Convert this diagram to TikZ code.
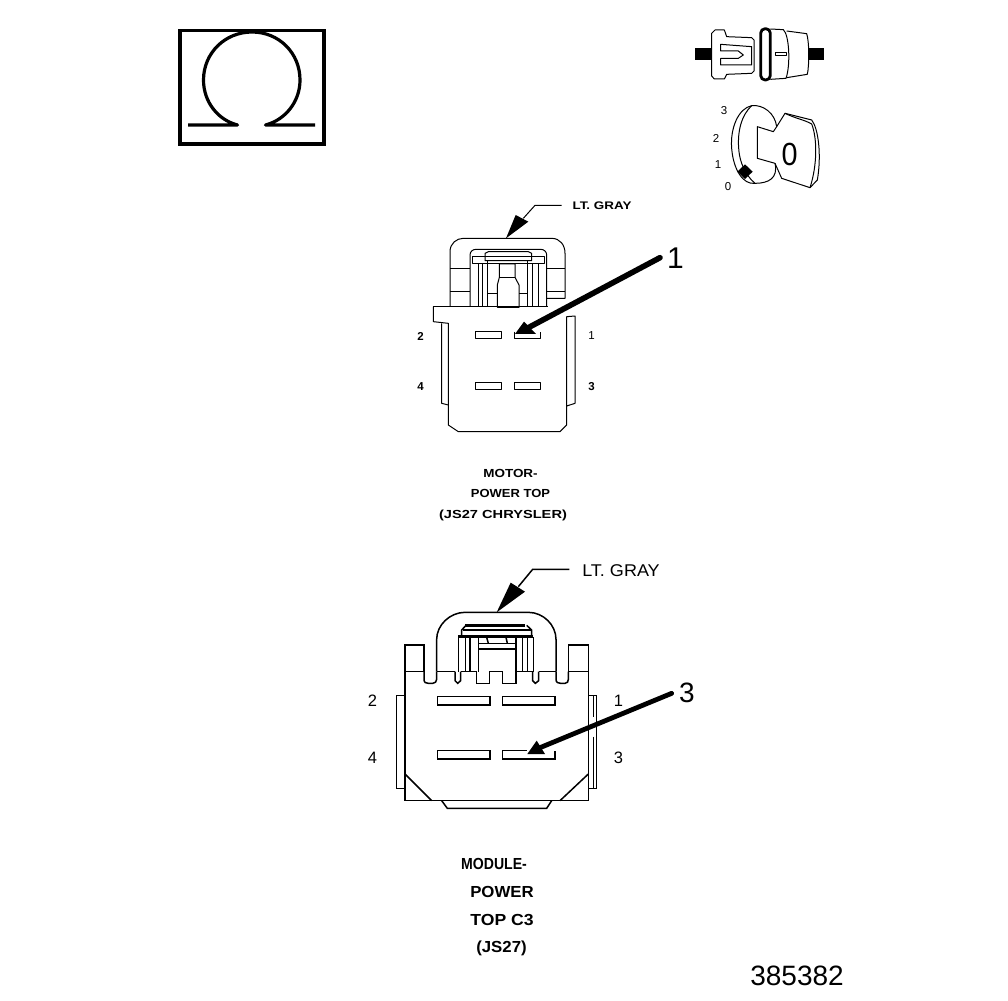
\documentclass[tikz,border=0pt]{standalone}
\usepackage{fontspec}
\setmainfont{Liberation Sans}
\newcommand{\fs}[1]{\fontsize{#1}{#1}\selectfont}
\tikzset{
  thin line/.style={line width=1pt,line join=round},
  med line/.style={line width=1.5pt,line join=miter},
  lbl/.style={inner sep=0pt,text=black},
  zoomA/.style={shift={(400,190)},x=0.33333pt,y=-0.33333pt},
  zoomB/.style={shift={(350,550)},x=0.33333pt,y=-0.33333pt},
  zoomC/.style={shift={(680,15)},x=0.33333pt,y=-0.33333pt},
}
\begin{document}
\begin{tikzpicture}[x=1pt,y=-1pt]
\useasboundingbox (0,0) rectangle (1008,1000);
\fill[white] (0,0) rectangle (1008,1000);
% Omega symbol
\draw[line width=3.4pt] (180,30.5) rectangle (324,144);
\draw[line width=3.2pt,line join=round] (188,125) -- (237.5,125) .. controls (218,120) and (203.5,102) .. (203.5,80)
  .. controls (203.5,53) and (225,32) .. (252,32) .. controls (279,32) and (300,53) .. (300,80)
  .. controls (300,102) and (285,120) .. (265.5,125) -- (315,125);
% Top-right switch
\begin{scope}[zoomC,thin line]
\fill (45,100) rectangle (95,135);
\fill (385,100) rectangle (432,135);
\draw (95,135) -- (95,55) -- (105,45) -- (133,45) -- (140,65) -- (215,68) -- (222,75) -- (222,168) -- (215,175) -- (140,178) -- (133,192) -- (103,192) -- (95,183) -- cycle;
\draw (122,88) -- (215,95) -- (215,150) -- (122,150) -- (122,130) -- (175,130) -- (190,120) -- (175,108) -- (122,108) -- cycle;
\draw[line width=2.8pt,rounded corners=4.5pt] (242,41) rectangle (271,195);
\draw (271,42) -- (310,44) .. controls (328,60) and (332,150) .. (318,190) -- (271,193);
\draw (320,48) -- (380,56) .. controls (388,80) and (388,150) .. (382,178) -- (320,188);
\draw (286,112) rectangle (320,122);
% key
\draw (290,335) .. controls (285,295) and (250,268) .. (215,272) .. controls (175,280) and (150,340) .. (155,400)
  .. controls (160,465) and (190,510) .. (225,505) .. controls (265,505) and (295,490) .. (285,445);
\draw (215,272) .. controls (185,300) and (170,350) .. (177,410) .. controls (180,440) and (195,480) .. (225,505);
\draw (290,335) -- (280,350) -- (232,335) -- (232,430) -- (285,445);
\draw (290,335) -- (315,295) -- (395,315) .. controls (415,340) and (425,420) .. (412,495) -- (390,518) -- (305,490) -- (285,445);
\draw (315,295) .. controls (345,310) and (375,315) .. (395,327) .. controls (412,370) and (412,450) .. (390,518);
\fill (195,448) -- (218,470) -- (195,492) -- (172,470) -- cycle;
\end{scope}
\node[lbl,font=\fs{11.5}] (k3) at (724,111) {3};
\node[lbl,font=\fs{11.5}] (k2) at (716,138.5) {2};
\node[lbl,font=\fs{11.5}] (k1) at (718,165) {1};
\node[lbl,font=\fs{11.5}] (k0) at (728,187) {0};
\node[lbl,font=\fs{32},xscale=0.9] (kO) at (789.5,154) {0};
% Connector 1
\begin{scope}[zoomA,thin line]
\draw (150,350) -- (150,185) .. controls (150,160) and (170,145) .. (190,145) -- (455,145) .. controls (480,145) and (495,165) .. (495,190) -- (495,325) -- (440,325);
\draw (150,235) -- (210,235); \draw (150,305) -- (210,305);
\draw (440,235) -- (495,235); \draw (440,305) -- (495,305);
\draw (210,350) -- (210,195) .. controls (210,185) and (218,178) .. (228,178) -- (422,178) .. controls (432,178) and (440,185) .. (440,195) -- (440,350);
\draw (100,350) -- (445,350);
\draw (100,350) -- (100,395) -- (145,400) -- (145,705) -- (175,725) -- (480,725) -- (500,705) -- (500,380) -- (525,378) -- (525,640) -- (500,648);
\draw (125,400) -- (125,640) -- (145,645);
\draw (218,200) -- (432,200) -- (432,220) -- (218,220) -- cycle;
\draw (255,200) -- (255,190) -- (265,185) -- (385,185) -- (395,190) -- (395,212) -- (255,212) -- cycle;
\draw (235,220) -- (235,350); \draw (248,220) -- (248,350); \draw (263,212) -- (263,350);
\draw (382,212) -- (382,350); \draw (398,220) -- (398,350); \draw (415,220) -- (415,350);
\draw (298,222) -- (345,222) -- (345,262) -- (357,285) -- (357,352) -- (292,352) -- (292,285) -- (298,262) -- cycle;
\draw (298,262) -- (345,262);
\draw (263,312) -- (292,312); \draw (357,312) -- (382,312);
\foreach \xa/\xb/\ya/\yb in {225/305/425/445,225/305/578/598,342/420/578/598}{
  \draw (\xa,\ya) rectangle (\xb,\yb);
}
\draw (342,425) -- (342,445) -- (420,445) -- (420,425);
\coordinate (a1end) at (780,203);
\coordinate (a1base) at (385,413);
\fill (345,432) -- (408,432) -- (372,395) -- cycle;
\draw[line width=5.6pt,line cap=round] (a1end) -- (a1base);
\coordinate (g1a) at (485,46);
\coordinate (g1b) at (405,46);
\coordinate (g1c) at (370,85);
\draw[line width=1pt] (g1a) -- (g1b) -- (g1c);
\fill (318,145) -- (385,95) -- (347,75) -- cycle;
\end{scope}
\node[lbl,font=\bfseries\fs{11},xscale=1.22] (g1) at (602,205.5) {LT. GRAY};
\node[lbl,font=\fs{30}] (n1) at (675.5,258) {1};
\node[lbl,font=\bfseries\fs{11.5}] (c12) at (420.5,336) {2};
\node[lbl,font=\fs{11.5}] (c11) at (591.5,336) {1};
\node[lbl,font=\bfseries\fs{11.5}] (c14) at (420.5,387) {4};
\node[lbl,font=\bfseries\fs{11.5}] (c13) at (591.5,387) {3};
\node[lbl,font=\bfseries\fs{11.7},xscale=1.15] (t1) at (510.5,473) {MOTOR-};
\node[lbl,font=\bfseries\fs{11.7},xscale=1.11] (t2) at (510.5,493.5) {POWER TOP};
\node[lbl,font=\bfseries\fs{11.7},xscale=1.25] (t3) at (503,515) {(JS27 CHRYSLER)};
% Connector 2
\begin{scope}[zoomB,med line]
\draw (165,752) -- (165,285) -- (222,285) -- (222,365);
\draw (715,752) -- (715,285) -- (655,285) -- (655,365);
\draw (165,752) -- (715,752);
\foreach \xa/\xb in {165/222,260/315,332/380,418/458,498/548,566/618,655/715}{
  \draw (\xa,365) -- (\xb,365);
}
\draw (260,365) -- (260,268) .. controls (260,225) and (300,187) .. (345,187) -- (535,187) .. controls (580,187) and (618,225) .. (618,268) -- (618,365);
\draw (222,365) -- (222,388) .. controls (222,398) and (228,400) .. (235,400) -- (248,400) .. controls (255,400) and (260,395) .. (260,388) -- (260,365);
\draw (618,365) -- (618,388) .. controls (618,398) and (625,400) .. (632,400) -- (645,400) .. controls (652,400) and (655,395) .. (655,388) -- (655,365);
\draw (315,365) -- (315,392) -- (323,400) -- (332,392) -- (332,365);
\draw (548,365) -- (548,392) -- (556,400) -- (566,392) -- (566,365);
\draw (380,365) -- (380,400) -- (418,400) -- (418,365);
\draw (458,365) -- (458,400) -- (498,400) -- (498,365);
\draw (165,437) -- (140,437) -- (140,715) -- (165,715);
\draw (715,437) -- (740,437) -- (740,715) -- (715,715);
\draw (730,437) -- (730,500); \draw (730,560) -- (730,715);
\draw (165,672) -- (245,752);
\draw (715,672) -- (630,752);
\draw (275,752) -- (292,775) -- (590,775) -- (605,752);
\draw (325,365) -- (325,260); \draw (550,365) -- (550,260);
\draw (347,365) -- (347,262); \draw (360,365) -- (360,262);
\draw (518,365) -- (518,262); \draw (532,365) -- (532,262);
\draw (385,365) -- (385,262); \draw (498,365) -- (498,262);
\draw[line width=2.4pt] (325,260) -- (550,260);
\draw[line width=2.4pt] (345,226) -- (525,226);
\draw (335,258) -- (335,240) -- (348,226); \draw (545,258) -- (545,240) -- (530,226);
\draw[line width=1.6pt] (338,240) -- (542,240);
\draw (385,280) -- (498,280); \draw (385,297) -- (498,297);
\draw (410,262) -- (415,280); \draw (468,262) -- (472,280);
\draw (263,440) rectangle (420,465);
\draw (458,440) rectangle (615,465);
\draw (263,602) rectangle (420,627);
\draw (530,602) -- (458,602) -- (458,627) -- (615,627) -- (615,602);
\coordinate (a2end) at (965,430);
\coordinate (a2base) at (570,593);
\fill (532,612) -- (585,612) -- (560,572) -- cycle;
\draw[line width=4.8pt,line cap=round] (a2end) -- (a2base);
\coordinate (g2a) at (658,58);
\coordinate (g2b) at (548,58);
\coordinate (g2c) at (505,110);
\draw (g2a) -- (g2b) -- (g2c);
\fill (440,187) -- (525,125) -- (482,98) -- cycle;
\end{scope}
\node[lbl,font=\fs{17},xscale=1.06] (g2) at (621,570.5) {LT. GRAY};
\node[lbl,font=\fs{28}] (n3) at (687,692.5) {3};
\node[lbl,font=\fs{16.5}] (c22) at (372.5,701) {2};
\node[lbl,font=\fs{16.5}] (c21) at (618.5,701) {1};
\node[lbl,font=\fs{16.5}] (c24) at (372.5,758) {4};
\node[lbl,font=\fs{16.5}] (c23) at (618.5,758) {3};
\node[lbl,font=\bfseries\fs{16},xscale=0.88] (m1) at (494,864) {MODULE-};
\node[lbl,font=\bfseries\fs{16},xscale=1.05] (m2) at (502,892) {POWER};
\node[lbl,font=\bfseries\fs{16},xscale=1.1] (m3) at (502,920) {TOP C3};
\node[lbl,font=\bfseries\fs{16},xscale=1.05] (m4) at (501.5,948) {(JS27)};
\node[lbl,font=\fs{28}] (num) at (797,976) {385382};
\end{tikzpicture}
\end{document}
